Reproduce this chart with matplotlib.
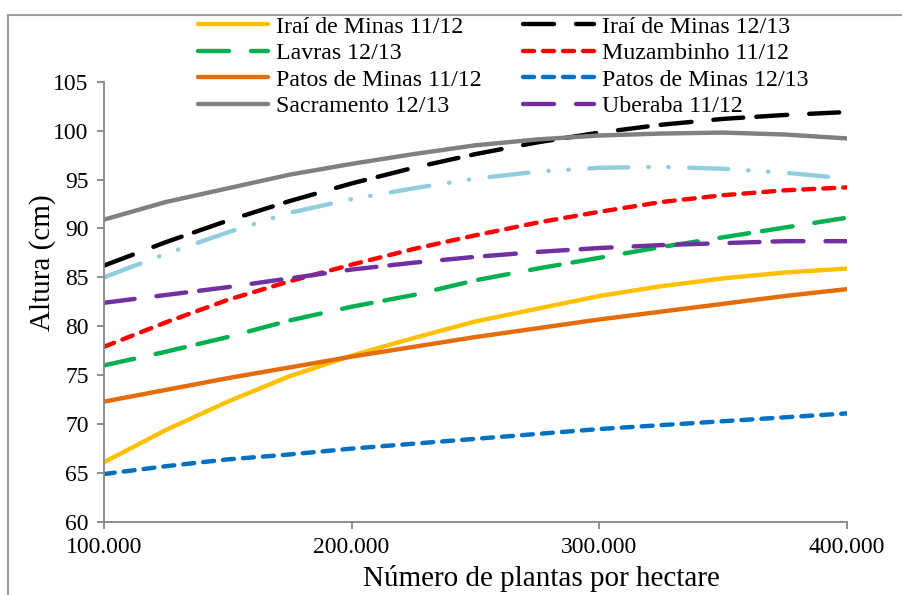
import matplotlib
matplotlib.use("Agg")
import matplotlib.pyplot as plt
from matplotlib.patches import Rectangle
from matplotlib.ticker import FuncFormatter

plt.rcParams['font.family'] = ['Liberation Serif', 'DejaVu Serif']
plt.rcParams['lines.scale_dashes'] = False

# densidade de plantio (plantas por hectare)
plantas = [100000, 125000, 150000, 175000, 200000, 225000, 250000,
           275000, 300000, 325000, 350000, 375000, 400000]

# altura de plantas (cm) por local/safra
irai_1112 = [66.1, 69.4, 72.3, 74.9, 77.0, 78.8, 80.5, 81.8, 83.1, 84.1, 84.9, 85.5, 85.9]
irai_1213 = [86.2, 88.6, 90.8, 92.8, 94.6, 96.2, 97.6, 98.8, 99.8, 100.6, 101.2, 101.6, 101.9]
lavras_1213 = [76.0, 77.4, 78.9, 80.6, 82.0, 83.2, 84.7, 85.9, 87.0, 88.1, 89.1, 90.1, 91.1]
muzambinho_1112 = [77.9, 80.4, 82.7, 84.6, 86.3, 87.9, 89.3, 90.6, 91.7, 92.7, 93.4, 93.9, 94.2]
patos_1112 = [72.3, 73.5, 74.7, 75.8, 76.9, 77.9, 78.9, 79.8, 80.7, 81.5, 82.3, 83.1, 83.8]
patos_1213 = [64.9, 65.7, 66.4, 66.9, 67.5, 68.0, 68.5, 69.0, 69.5, 69.9, 70.3, 70.7, 71.1]
sacramento_1213 = [90.9, 92.7, 94.1, 95.5, 96.6, 97.6, 98.5, 99.1, 99.5, 99.7, 99.8, 99.6, 99.2]
uberaba_1112 = [82.4, 83.2, 84.0, 84.9, 85.8, 86.5, 87.1, 87.6, 88.0, 88.3, 88.5, 88.7, 88.7]
azul_claro = [85.0, 87.4, 89.6, 91.6, 93.0, 94.1, 95.1, 95.8, 96.2, 96.3, 96.1, 95.7, 95.1]

rotulos = ['Iraí de Minas 11/12', 'Iraí de Minas 12/13', 'Lavras 12/13',
           'Muzambinho 11/12', 'Patos de Minas 11/12', 'Patos de Minas 12/13',
           'Sacramento 12/13', 'Uberaba 11/12']

PX = 0.72  # 1 px em pontos (dpi 100)
LW = 4.4 * PX

tracejado_longo = (0, [31 * PX, 22 * PX, 30 * PX, 13 * PX])
tracejado_curto = (0, [11 * PX, 9 * PX])
traco_ponto_ponto = (0, [39 * PX, 20 * PX, 0.5 * PX, 19.5 * PX, 0.5 * PX, 20.5 * PX])

series = [
    (irai_1112, '#FFC000', '-'),
    (irai_1213, '#000000', tracejado_longo),
    (lavras_1213, '#00B050', tracejado_longo),
    (muzambinho_1112, '#FF0000', tracejado_curto),
    (patos_1112, '#E46C0A', '-'),
    (patos_1213, '#0070C0', tracejado_curto),
    (sacramento_1213, '#808080', '-'),
    (uberaba_1112, '#7030A0', tracejado_longo),
]

fig = plt.figure(figsize=(9.03, 5.95), dpi=100)
ax = fig.add_axes([0.115, 0.1227, 0.823, 0.74])

linhas = []
for (valores, cor, estilo), rotulo in zip(series, rotulos):
    ln, = ax.plot(plantas, valores, color=cor, linestyle=estilo, linewidth=LW,
                  dash_capstyle='round', solid_capstyle='round', label=rotulo)
    linhas.append(ln)

ax.plot(plantas, azul_claro, color='#93CDDD', linestyle=traco_ponto_ponto,
        linewidth=LW, dash_capstyle='round', solid_capstyle='round')

ax.set_xlim(100000, 400000)
ax.set_ylim(60, 105)
ax.set_xticks([100000, 200000, 300000, 400000])
ax.set_yticks(range(60, 106, 5))
ax.xaxis.set_major_formatter(FuncFormatter(lambda v, p: f'{int(v):,}'.replace(',', '.')))

for lado in ['top', 'right']:
    ax.spines[lado].set_visible(False)
for lado in ['left', 'bottom']:
    ax.spines[lado].set_color('#868686')
    ax.spines[lado].set_linewidth(1.3)
ax.tick_params(axis='both', direction='out', length=5, width=1.3, color='#868686',
               labelsize=17, pad=6)

ax.set_xlabel('Número de plantas por hectare', fontsize=21)
ax.set_ylabel('Altura (cm)', fontsize=21)
ax.xaxis.set_label_coords(0.589, -0.098)
ax.yaxis.set_label_coords(-0.064, 0.59)

# legenda em duas colunas, preenchida por linhas
ordem = [0, 2, 4, 6, 1, 3, 5, 7]
ax.legend([linhas[i] for i in ordem], [rotulos[i] for i in ordem], ncol=2,
          loc='upper left', bbox_to_anchor=(198 / 903, 1 - 16 / 595),
          bbox_transform=fig.transFigure, frameon=False, fontsize=17.2,
          handlelength=2.95, handletextpad=0.33, columnspacing=1.72,
          labelspacing=0.2, borderpad=0, borderaxespad=0)

# moldura da área do gráfico
fig.patches.append(Rectangle((8 / 903, -0.5), 2, 1.5 - 15 / 595, transform=fig.transFigure,
                             fill=False, edgecolor='#A0A0A0', linewidth=1.5))

fig.savefig('out.png', dpi=100)
